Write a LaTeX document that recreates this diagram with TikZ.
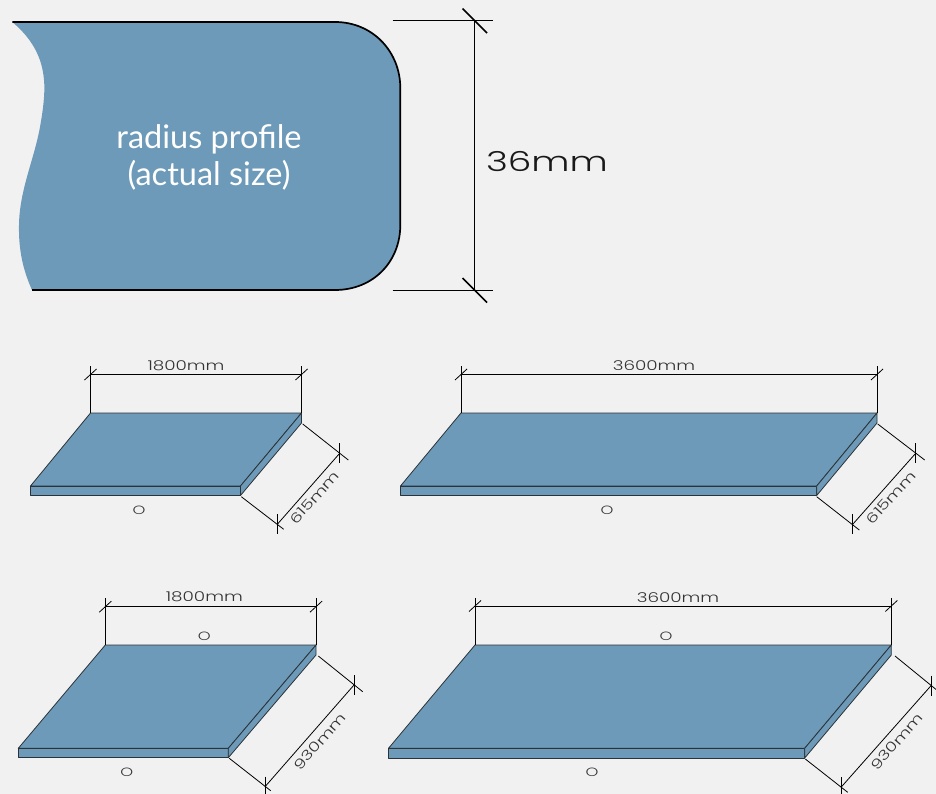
\documentclass[tikz,border=0pt]{standalone}
\usepackage{fontspec}
\setmainfont{Lato}
\newfontfamily\dimfont[FakeStretch=1.36]{Poppins Light}
\definecolor{slabblue}{HTML}{6D9AB9}
\definecolor{pagebg}{HTML}{F1F1F1}
\definecolor{edge}{HTML}{2B3338}
\tikzset{
  x=1pt,y=-1pt,
  dimline/.style={draw=black,line width=0.8pt},
  bigdim/.style={draw=black,line width=1pt},
  slabface/.style={fill=slabblue,draw=edge,line width=0.8pt,line join=round},
  outline/.style={draw=black,line width=1.7pt,line cap=butt},
  dimtext/.style={font=\dimfont\fontsize{13.5}{15}\selectfont,text=black!80,inner sep=0pt},
  oh/.style={font=\dimfont\fontsize{12}{14}\selectfont,text=black!80,inner sep=0pt},
}
% #1 name, #2 xBL, #3 xBR, #4 xFR, #5 xFL, #6 yBack, #7 yFront, #8 yBottom
\newcommand{\slabpanel}[8]{%
  \coordinate (#1bl) at (#2,#6);
  \coordinate (#1br) at (#3,#6);
  \coordinate (#1fr) at (#4,#7);
  \coordinate (#1fl) at (#5,#7);
  \coordinate (#1brb) at (#3,#6+10);
  \coordinate (#1frb) at (#4,#8);
  \coordinate (#1flb) at (#5,#8);
  \draw[slabface] (#1bl)--(#1br)--(#1fr)--(#1fl)--cycle;
  \draw[slabface] (#1fl)--(#1fr)--(#1frb)--(#1flb)--cycle;
  \draw[slabface] (#1br)--(#1brb)--(#1frb)--(#1fr)--cycle;
}
% top dimension: #1 name of panel, #2 y of the line
\newcommand{\topdim}[2]{%
  \coordinate (#1ta) at ($(#1bl |- 0,#2)$);
  \coordinate (#1tb) at ($(#1br |- 0,#2)$);
  \draw[dimline] (#1bl)--($(#1ta)+(0,-8.5)$);
  \draw[dimline] (#1br)--($(#1tb)+(0,-8.5)$);
  \draw[dimline] (#1ta)--(#1tb);
  \draw[dimline] ($(#1ta)+(-6,5.5)$)--($(#1ta)+(6,-5.5)$);
  \draw[dimline] ($(#1tb)+(-6,5.5)$)--($(#1tb)+(6,-5.5)$);
}
% side dimension tick
\newcommand{\sidetick}[1]{%
  \draw[dimline] ($(#1)+(0,-10)$)--($(#1)+(0,10)$);
}
\usetikzlibrary{calc}
\begin{document}
\begin{tikzpicture}
\useasboundingbox[fill=pagebg] (0,0) rectangle (936,794);

% radius profile
\coordinate (pa) at (12.3,22);
\coordinate (pb) at (335,22);
\coordinate (pc) at (400.3,88);
\coordinate (pd) at (400.3,225);
\coordinate (pe) at (335,290);
\coordinate (pf) at (32,290);
\fill[slabblue] (pa)--(pb) .. controls (373,22) and (400.3,52) .. (pc)--(pd)
  .. controls (400.3,262) and (373,290) .. (pe)--(pf)
  .. controls (23,270) and (18.5,250) .. (19,225)
  .. controls (19.5,190) and (34,160) .. (40,127)
  .. controls (44,105) and (45,90) .. (44,80)
  .. controls (42,55) and (30,37) .. (pa)--cycle;
\draw[outline] (pa)--(pb) .. controls (373,22) and (400.3,52) .. (pc)--(pd)
  .. controls (400.3,262) and (373,290) .. (pe)--(pf);
\node[text=white,font=\fontsize{32.5}{37}\selectfont,align=center,inner sep=0pt] (plabel) at (209,157.5) {radius profile\\(actual size)};

% 36 mm dimension
\coordinate (da) at (474.5,20.5);
\coordinate (db) at (474.5,290);
\draw[dimline] (392.5,20.5)--(493,20.5);
\draw[dimline] (392.5,290)--(493,290);
\draw[bigdim] (da)--(db);
\draw[draw=black,line width=1.5pt] ($(da)+(-12,-12)$)--($(da)+(12.5,12.5)$);
\draw[draw=black,line width=1.5pt] ($(db)+(-12,-12)$)--($(db)+(12.5,12.5)$);
\node[font=\dimfont\fontsize{27.5}{32}\selectfont,text=black!90,inner sep=0pt] (dlabel) at (547,162) {36mm};

% panel 1
\slabpanel{p}{90.5}{301.5}{240.5}{30.5}{413}{486}{495.5}
\topdim{p}{374.5}
\coordinate (ps1) at (339.7,453.3);
\coordinate (ps2) at (277.3,524.3);
\draw[dimline] (302.7,424)--(348.3,460);
\draw[dimline] (241.3,496.7)--(283.7,529.3);
\draw[dimline] (ps1)--(ps2);
\sidetick{ps1}\sidetick{ps2}
\node[dimtext] (pw) at (186,366) {1800mm};
\node[dimtext,rotate=48] (pd1) at (314.5,497.5) {615mm};
\node[oh] (po) at (139,510) {O};

% panel 2
\slabpanel{q}{461}{877}{816.7}{400.5}{413}{486}{495.5}
\topdim{q}{374.5}
\coordinate (qs1) at (915.7,453.3);
\coordinate (qs2) at (852.7,524.3);
\draw[dimline] (877.7,424)--(924.7,460);
\draw[dimline] (816.7,496.7)--(859.3,530);
\draw[dimline] (qs1)--(qs2);
\sidetick{qs1}\sidetick{qs2}
\node[dimtext] (qw) at (654,366) {3600mm};
\node[dimtext,rotate=48] (qd1) at (891,497.5) {615mm};
\node[oh] (qo) at (607,510) {O};

% panel 3
\slabpanel{r}{105.3}{316}{228.3}{18.3}{645}{748.3}{757.7}
\topdim{r}{606.7}
\coordinate (rs1) at (354,685);
\coordinate (rs2) at (265,786.7);
\draw[dimline] (318.3,656)--(362.7,691.7);
\draw[dimline] (229.3,758.3)--(270.7,790.7);
\draw[dimline] (rs1)--(rs2);
\sidetick{rs1}\sidetick{rs2}
\node[dimtext] (rw) at (204.3,597) {1800mm};
\node[dimtext,rotate=49] (rd1) at (320,741.5) {930mm};
\node[oh] (ro) at (204.3,636) {O};
\node[oh] (ro2) at (126.7,772.3) {O};

% panel 4
\slabpanel{s}{475}{891.3}{804.7}{388.5}{645}{748.3}{758}
\topdim{s}{606}
\coordinate (ss1) at (931,685.7);
\coordinate (ss2) at (841,787.3);
\draw[dimline] (895,656)--(936.7,690);
\draw[dimline] (805.3,759)--(847.7,792.3);
\draw[dimline] (ss1)--(ss2);
\sidetick{ss1}\sidetick{ss2}
\node[dimtext] (sw) at (678,598) {3600mm};
\node[dimtext,rotate=49] (sd1) at (896.7,741.5) {930mm};
\node[oh] (so) at (666,636) {O};
\node[oh] (so2) at (592,772.3) {O};
\end{tikzpicture}
\end{document}
